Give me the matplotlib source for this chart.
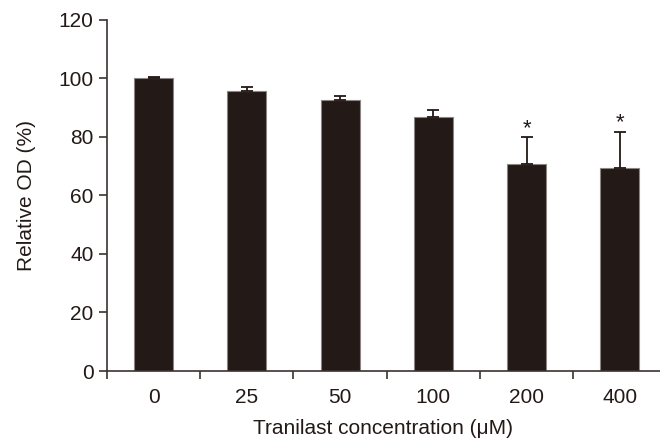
import numpy as np
import matplotlib
matplotlib.use('Agg')
import matplotlib.pyplot as plt

plt.rcParams['font.family'] = ['Liberation Sans', 'DejaVu Sans']

categories = ['0', '25', '50', '100', '200', '400']
values = [100.0, 95.7, 92.5, 86.7, 70.9, 69.5]
errors = [0.3, 1.4, 1.3, 2.6, 8.9, 12.2]
significant = [False, False, False, False, True, True]

bar_color = '#231916'
axis_color = '#3a3330'

fig = plt.figure(figsize=(6.6, 4.44), dpi=100)
ax = fig.add_axes([0.162, 0.1644, 0.838, 0.791])

x = np.arange(len(categories))
ax.bar(x, values, width=0.42, color=bar_color, edgecolor='#8a8582', linewidth=0.8, zorder=2)
ax.errorbar(x, values, yerr=[np.zeros(len(errors)), errors], fmt='none',
            ecolor=bar_color, elinewidth=1.3, capsize=4.5, capthick=1.3, zorder=3)

for xi, v, e, s in zip(x, values, errors, significant):
    if s:
        ax.text(xi, v + e + 3.0, '*', ha='center', va='center', fontsize=16, color=bar_color)

ax.set_xlim(-0.5, 5.43)
ax.set_ylim(0, 120)
ax.set_yticks(np.arange(0, 121, 20))
ax.set_xticks(x)
ax.set_xticklabels(categories)
ax.set_xticks(np.arange(-0.5, 5, 1), minor=True)
ax.tick_params(axis='x', which='major', length=0, pad=12, labelsize=15, colors='#231916')
ax.tick_params(axis='x', which='minor', length=6, width=1.2, color=axis_color)
ax.tick_params(axis='y', length=6, width=1.2, color=axis_color, labelsize=15, labelcolor='#231916')

for side in ['top', 'right']:
    ax.spines[side].set_visible(False)
for side in ['left', 'bottom']:
    ax.spines[side].set_color(axis_color)
    ax.spines[side].set_linewidth(1.2)

ax.set_xlabel('Tranilast concentration (\u03bcM)', fontsize=15, color='#231916', labelpad=9)
ax.set_ylabel('Relative OD (%)', fontsize=15, color='#231916', labelpad=16)

fig.savefig('out.png', dpi=100)
